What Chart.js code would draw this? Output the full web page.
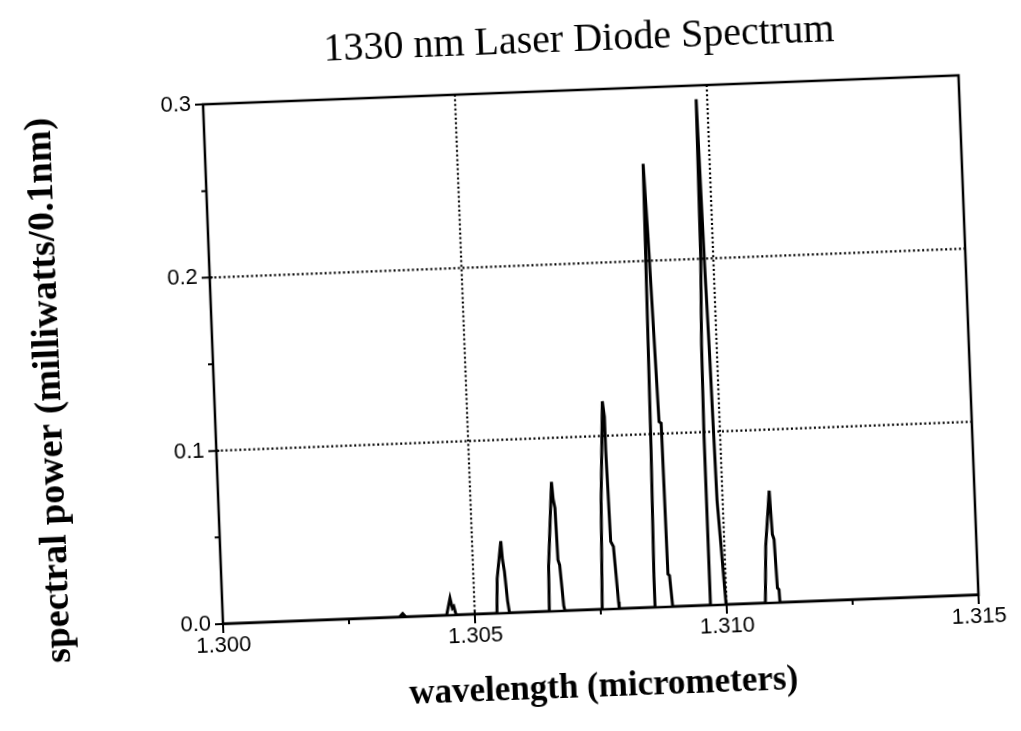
<!DOCTYPE html>
<html>
<head>
<meta charset="utf-8">
<script src="https://cdn.jsdelivr.net/npm/chart.js@4.4.1/dist/chart.umd.min.js"></script>
<style>
  html, body { margin: 0; padding: 0; background: #fff; overflow: hidden; }
  /* the printed plot sits slightly tilted on the page */
  #wrap { width: 1021px; height: 731px; transform: rotate(-2.2deg); transform-origin: 223px 624px; }
</style>
</head>
<body>
<div id="wrap"><canvas id="spectrum" width="1021" height="731"></canvas></div>
<script>
// ------------------------------------------------------
// spectrum samples: wavelength (um) and power (mW / 0.1 nm)
// ------------------------------------------------------
const wavelengthUm = [
  1.30000, 1.30350, 1.30357, 1.30363,
  1.30444, 1.30452, 1.30456, 1.30459, 1.30463,
  1.30544, 1.30547, 1.30557, 1.30559, 1.30562, 1.30566, 1.30569,
  1.30648, 1.30650, 1.30662, 1.30664, 1.30667, 1.30669, 1.30672, 1.30677, 1.30679,
  1.30753, 1.30759, 1.30769, 1.30772, 1.30772, 1.30775, 1.30780, 1.30786, 1.30787,
  1.30858, 1.30858, 1.30862, 1.30868, 1.30872, 1.30880, 1.30884, 1.30886, 1.30889, 1.30893,
  1.30968, 1.30968, 1.30968, 1.30970, 1.30975, 1.30978, 1.30982, 1.30985, 1.30989, 1.30999,
  1.31077, 1.31082, 1.31093, 1.31096, 1.31099, 1.31102, 1.31105, 1.31106,
  1.31500
];
const powerMw = [
  0, 0, 0.002, 0,
  0, 0.0099, 0.004, 0.005, 0,
  0, 0.020, 0.0416, 0.031, 0.024, 0.007, 0,
  0, 0.026, 0.0746, 0.0647, 0.0595, 0.0295, 0.0265, 0.003, 0,
  0, 0.062, 0.120, 0.111, 0.092, 0.039, 0.036, 0.004, 0,
  0, 0.018, 0.091, 0.256, 0.215, 0.107, 0.106, 0.019, 0.018, 0,
  0, 0.034, 0.098, 0.150, 0.200, 0.292, 0.200, 0.150, 0.060, 0,
  0, 0.033, 0.0648, 0.0395, 0.0366, 0.0085, 0.0076, 0,
  0
];

const xTickValues = [1.300, 1.305, 1.310, 1.315];
const xMinorTicks = [1.3025, 1.3075, 1.3125];
const xGridValues = [1.305, 1.310];
const yTickValues = [0.0, 0.1, 0.2, 0.3];
const yMinorTicks = [0.05, 0.15, 0.25];
const yGridValues = [0.1, 0.2];
const yAxisTitle = 'spectral power (milliwatts/0.1nm)';

const INK = '#000';
const SERIF = '"Liberation Serif", "DejaVu Serif", serif';
const SANS = '"Liberation Sans", Arial, sans-serif';

// dotted grid under the trace, box, tick marks and y title over it
const framePlugin = {
  id: 'framePlugin',
  beforeDatasetsDraw(chart) {
    const { ctx, chartArea: a, scales: { x, y } } = chart;
    ctx.save();
    ctx.strokeStyle = INK;
    ctx.lineWidth = 2.2;
    ctx.setLineDash([2, 2.6]);
    ctx.beginPath();
    xGridValues.forEach(v => {
      const px = x.getPixelForValue(v);
      ctx.moveTo(px, a.top);
      ctx.lineTo(px, a.bottom);
    });
    yGridValues.forEach(v => {
      const py = y.getPixelForValue(v);
      ctx.moveTo(a.left, py);
      ctx.lineTo(a.right, py);
    });
    ctx.stroke();
    ctx.restore();
  },
  afterDatasetsDraw(chart) {
    const { ctx, chartArea: a, scales: { x, y } } = chart;
    ctx.save();
    ctx.strokeStyle = INK;
    ctx.lineWidth = 2.5;
    ctx.strokeRect(a.left, a.top, a.right - a.left, a.bottom - a.top);

    ctx.lineWidth = 2;
    ctx.beginPath();
    xTickValues.forEach(v => {
      const px = x.getPixelForValue(v);
      ctx.moveTo(px, a.bottom - 4);
      ctx.lineTo(px, a.bottom + 9);
    });
    xMinorTicks.forEach(v => {
      const px = x.getPixelForValue(v);
      ctx.moveTo(px, a.bottom);
      ctx.lineTo(px, a.bottom + 5);
    });
    yTickValues.forEach(v => {
      const py = y.getPixelForValue(v);
      ctx.moveTo(a.left - 8, py);
      ctx.lineTo(a.left + 3, py);
    });
    yMinorTicks.forEach(v => {
      const py = y.getPixelForValue(v);
      ctx.moveTo(a.left - 5, py);
      ctx.lineTo(a.left, py);
    });
    ctx.stroke();

    // vertical axis title, a little lower than the plot centre
    ctx.translate(a.left - 164, a.bottom - 240);
    ctx.rotate(-Math.PI / 2);
    ctx.fillStyle = INK;
    ctx.font = 'bold 38px ' + SERIF;
    ctx.textAlign = 'center';
    ctx.textBaseline = 'middle';
    ctx.fillText(yAxisTitle, 0, 0);
    ctx.restore();
  }
};

const points = wavelengthUm.map((w, i) => ({ x: w, y: powerMw[i] }));

new Chart(document.getElementById('spectrum'), {
  type: 'scatter',
  data: {
    datasets: [{
      data: points,
      showLine: true,
      borderColor: INK,
      borderWidth: 3,
      pointRadius: 0,
      tension: 0,
    }]
  },
  plugins: [framePlugin],
  options: {
    responsive: false,
    animation: false,
    layout: { padding: { top: 0, right: 42, bottom: 0, left: 0 } },
    plugins: {
      legend: { display: false },
      tooltip: { enabled: false },
      title: {
        display: true,
        fullSize: false,
        text: '1330 nm Laser Diode Spectrum',
        color: INK,
        font: { family: SERIF, size: 40, weight: 'normal' },
        padding: { top: 30, bottom: 26 },
      }
    },
    scales: {
      x: {
        type: 'linear',
        min: 1.300,
        max: 1.315,
        afterBuildTicks: s => { s.ticks = xTickValues.map(v => ({ value: v })); },
        afterFit: s => { s.height = 107; },
        grid: { display: false, drawTicks: false },
        border: { display: false },
        ticks: {
          color: INK,
          padding: 9,
          maxRotation: 0,
          font: { family: SANS, size: 22 },
          callback: v => v.toFixed(3),
        },
        title: {
          display: true,
          text: 'wavelength (micrometers)',
          color: INK,
          font: { family: SERIF, size: 35, weight: 'bold' },
          padding: { top: 0, bottom: 8 },
        }
      },
      y: {
        type: 'linear',
        min: 0,
        max: 0.3,
        afterBuildTicks: s => { s.ticks = yTickValues.map(v => ({ value: v })); },
        afterFit: s => { s.width = 223; },
        grid: { display: false, drawTicks: false },
        border: { display: false },
        ticks: {
          color: INK,
          padding: 12,
          font: { family: SANS, size: 22 },
          callback: v => v.toFixed(1),
        },
        title: { display: false }
      }
    }
  }
});
</script>
</body>
</html>
